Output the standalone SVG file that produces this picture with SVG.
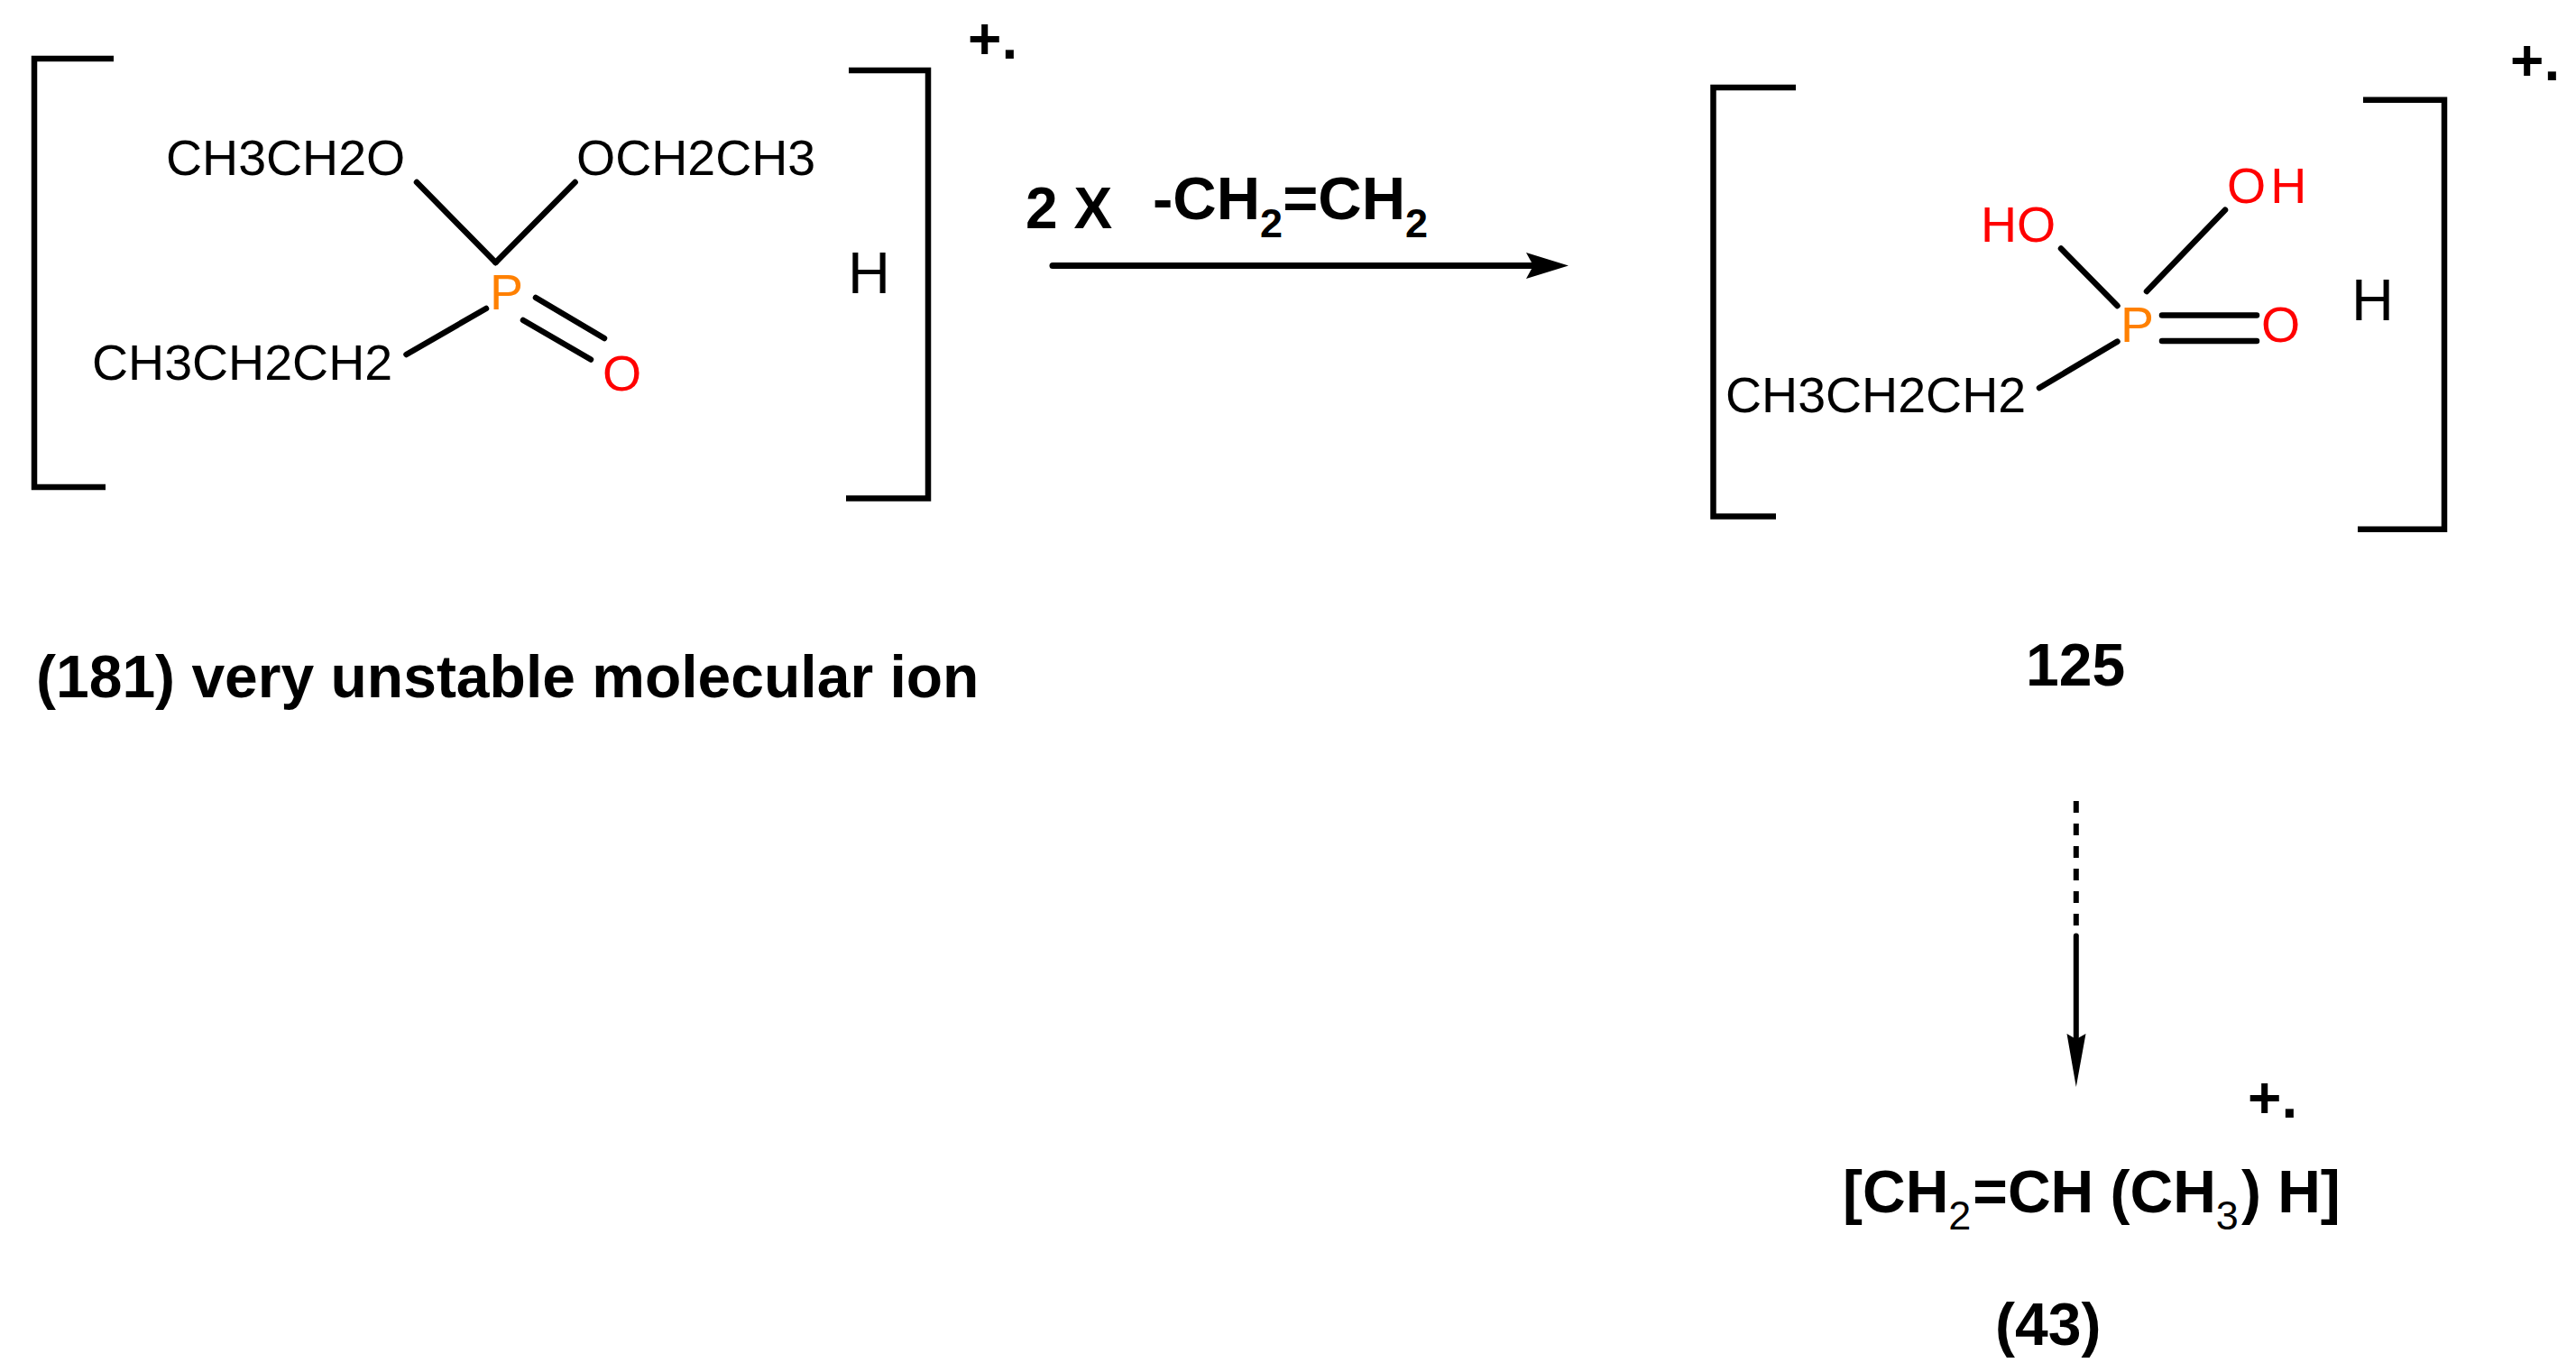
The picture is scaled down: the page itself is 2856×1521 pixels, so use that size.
<svg xmlns="http://www.w3.org/2000/svg" width="2856" height="1521" viewBox="0 0 2856 1521">
<style>
text{font-family:"Liberation Sans",Arial,sans-serif;fill:#000}
.a{font-size:55.5px}
.b{font-size:66px;font-weight:700}
.h{font-size:65px}
.s{font-size:64px;font-weight:700}
.r{fill:#f00}
.p{fill:#ff8000}
.u{font-size:45px;font-weight:400}
.v{font-size:45px}
line,polyline{stroke:#000;stroke-width:6.5;fill:none;stroke-linecap:round}
.br{stroke-linejoin:miter;stroke-linecap:butt}
</style>
<rect width="2856" height="1521" fill="#fff"/>
<g id="reactant">
<polyline class="br" points="126,65 38,65 38,540 117,540"/>
<polyline class="br" points="941,78 1029,78 1029,552.5 938,552.5"/>
<line x1="462" y1="202" x2="549.5" y2="291"/>
<line x1="637.6" y1="202" x2="549.5" y2="291"/>
<line x1="539" y1="342" x2="450.5" y2="393"/>
<line x1="594" y1="330" x2="670" y2="375"/>
<line x1="580" y1="355" x2="655" y2="398.5"/>
<text class="a" x="184" y="194">CH3CH2O</text>
<text class="a" x="639" y="194">OCH2CH3</text>
<text class="a" x="102" y="421">CH3CH2CH2</text>
<text class="a p" x="543" y="343">P</text>
<text class="a r" x="668" y="433">O</text>
<text class="h" x="940" y="325">H</text>
<text class="s" x="1073" y="65">+.</text>
<text class="b" x="40" y="773">(181) very unstable molecular ion</text>
</g>
<g id="intermediate">
<polyline class="br" points="1991,97 1899.5,97 1899.5,572.5 1969,572.5"/>
<polyline class="br" points="2620,110.7 2710,110.7 2710,586.7 2614,586.7"/>
<line x1="2285" y1="275.5" x2="2347.5" y2="339"/>
<line x1="2467" y1="232.7" x2="2380" y2="323"/>
<line x1="2347.5" y1="378.6" x2="2261" y2="430"/>
<line x1="2397" y1="349.5" x2="2502" y2="349.5"/>
<line x1="2397" y1="378" x2="2502" y2="378"/>
<text class="a r" x="2196" y="268">HO</text>
<text class="a r" x="2469" y="225" letter-spacing="5">OH</text>
<text class="a p" x="2351" y="379">P</text>
<text class="a r" x="2507" y="379">O</text>
<text class="a" x="1913" y="457">CH3CH2CH2</text>
<text class="h" x="2607" y="354.6">H</text>
<text class="s" x="2783" y="89">+.</text>
<text class="b" x="2246" y="760">125</text>
</g>
<g id="product">
<text class="b" x="2043" y="1344">[CH<tspan class="u" dy="18.6">2</tspan><tspan dy="-18.6" dx="2">=CH (CH</tspan><tspan class="u" dy="18.6">3</tspan><tspan dy="-18.6" dx="3">) H]</tspan></text>
<text class="s" x="2492" y="1239">+.</text>
<text class="b" x="2212" y="1490.6">(43)</text>
</g>
<g id="reagents">
<text class="s" x="1137" y="252.5">2 X</text>
<text class="b" x="1278" y="243" style="font-size:67px">-CH<tspan class="v" dy="20">2</tspan><tspan dy="-20">=CH</tspan><tspan class="v" dy="20">2</tspan></text>
</g>
<g id="connectors">
<line x1="1167" y1="294.4" x2="1700" y2="294.4" style="stroke-width:7"/>
<polygon points="1692,280 1739,294.4 1692,309 1700,294.4"/>
<line x1="2301.8" y1="888" x2="2301.8" y2="1026" stroke-dasharray="13 12" style="stroke-width:6;stroke-linecap:butt"/>
<line x1="2301.8" y1="1037.4" x2="2301.8" y2="1150" style="stroke-width:6"/>
<polygon points="2291.5,1146 2301.8,1205 2312.5,1146 2301.8,1152"/>
</g>
</svg>
